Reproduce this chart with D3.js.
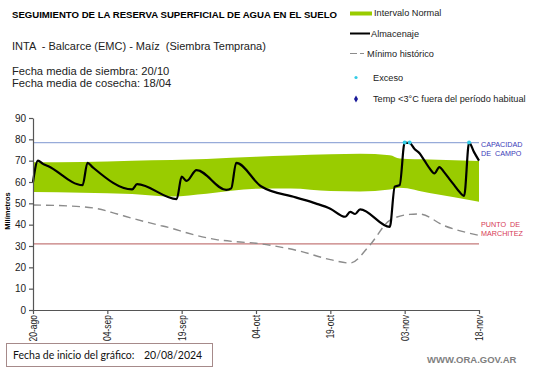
<!DOCTYPE html>
<html lang="es">
  <head>
    <meta charset="UTF-8" />
    <title>Reserva de agua en el suelo</title>
    <script src="https://cdn.jsdelivr.net/npm/d3@7"></script>
    <style>
      body { margin: 0; background: #fff; }
      svg { display: block; font-family: "Liberation Sans", Arial, sans-serif; }
    </style>
  </head>
  <body>
    <svg></svg>
    <script>
      const width = 541;
      const height = 368;

      // data: day offsets from the chart start date
      const startDate = new Date(2024, 7, 20);
      const tickDays = [0, 15, 30, 45, 60, 75, 90];
      const tickLabels = ["20-ago", "04-sep", "19-sep", "04-oct", "19-oct", "03-nov", "18-nov"];
      const yTicks = [0, 10, 20, 30, 40, 50, 60, 70, 80, 90];

      const storeDays = [0, 1, 2, 3, 10, 11, 12, 20, 21, 29, 30, 31, 33, 39, 40, 41, 46, 53, 57, 60, 63, 64, 65, 66, 72, 73, 74, 75, 76, 77, 78, 79, 80, 81, 82, 83, 84, 85, 86, 87, 88, 89, 90];
      const storeValues = [60, 70, 68.5, 67.5, 58.5, 69, 67, 56.5, 59, 52, 62.5, 60.5, 65.6, 56.3, 57, 69, 58, 52.8, 50, 47.5, 43.7, 46, 45, 47.2, 39, 57.8, 58.6, 78.5, 78.3, 75.5, 73.5, 70, 66.5, 64, 67, 64.5, 61.5, 58.5, 55.5, 53.5, 78.5, 74, 70];

      const bandDays = [0, 10, 20, 28, 35, 45, 52, 60, 66, 72, 74, 80, 90];
      const bandUpper = [69.3, 69.4, 70, 70.3, 70.8, 71.8, 72.4, 73, 73.2, 72.5, 71, 70.5, 69.9];
      const bandLower = [55.3, 55, 54.4, 53.2, 54.5, 56.8, 57, 55.8, 55.6, 56.5, 57.3, 54.8, 50.8];

      const minDays = [0, 7, 13, 17, 20, 25, 28, 31, 37, 41, 45, 48, 54, 60, 64, 68, 72, 76, 78, 83, 90];
      const minValues = [49.2, 48.8, 47.5, 45, 43, 40, 38.3, 36.2, 33, 32, 31.3, 30.3, 27.5, 23.6, 22, 30.5, 42, 44.8, 45, 39.5, 35];

      const excesoDays = [75, 76, 88];
      const excesoValues = [78.5, 78.5, 78.5];

      const fieldCapacity = 78.5;
      const wiltingPoint = 31;

      const day = (d) => d3.timeDay.offset(startDate, d);

      const xScale = d3.scaleTime().domain([day(0), day(90)]).range([33, 479]);
      const yScale = d3.scaleLinear().domain([0, 90]).range([310, 118]);

      const svg = d3.select("svg").attr("width", width).attr("height", height);

      // normal interval band
      const band = bandDays.map((d, i) => ({ d: d, lo: bandLower[i], hi: bandUpper[i] }));
      const area = d3.area()
        .x((p) => xScale(day(p.d)))
        .y0((p) => yScale(p.lo))
        .y1((p) => yScale(p.hi))
        .curve(d3.curveMonotoneX);
      svg.append("path").attr("d", area(band)).attr("fill", "#99cc00");

      // reference lines
      svg.append("line")
        .attr("x1", xScale(day(0))).attr("x2", xScale(day(90)))
        .attr("y1", yScale(fieldCapacity)).attr("y2", yScale(fieldCapacity))
        .attr("stroke", "#97abd9").attr("stroke-width", 1.3);
      svg.append("line")
        .attr("x1", xScale(day(0))).attr("x2", xScale(day(90)))
        .attr("y1", yScale(wiltingPoint)).attr("y2", yScale(wiltingPoint))
        .attr("stroke", "#c47a7a").attr("stroke-width", 1.3);

      // historic minimum
      const minLine = d3.line()
        .x((p) => xScale(day(p[0])))
        .y((p) => yScale(p[1]))
        .curve(d3.curveMonotoneX);
      svg.append("path")
        .attr("d", minLine(minDays.map((d, i) => [d, minValues[i]])))
        .attr("fill", "none").attr("stroke", "#8c8c8c")
        .attr("stroke-width", 1.4).attr("stroke-dasharray", "8,5");

      // storage
      const storeLine = d3.line()
        .x((p) => xScale(day(p[0])))
        .y((p) => yScale(p[1]))
        .curve(d3.curveMonotoneX);
      svg.append("path")
        .attr("d", storeLine(storeDays.map((d, i) => [d, storeValues[i]])))
        .attr("fill", "none").attr("stroke", "#000")
        .attr("stroke-width", 2.2).attr("stroke-linejoin", "round");

      svg.selectAll("circle.exceso")
        .data(excesoDays.map((d, i) => [d, excesoValues[i]]))
        .join("circle")
        .attr("class", "exceso")
        .attr("cx", (p) => xScale(day(p[0])))
        .attr("cy", (p) => yScale(p[1]))
        .attr("r", 2)
        .attr("fill", "#33cce6");

      // axes
      const yAxis = svg.append("g")
        .attr("transform", "translate(33,0)")
        .call(d3.axisLeft(yScale).tickValues(yTicks).tickSize(4).tickSizeOuter(0));
      yAxis.selectAll("text").attr("font-size", 10).attr("fill", "#222").attr("x", -7)
        .attr("font-family", "Liberation Sans, Arial, sans-serif");

      const xAxis = svg.append("g")
        .attr("transform", "translate(0,310)")
        .call(d3.axisBottom(xScale)
          .tickValues(tickDays.map(day))
          .tickFormat((d, i) => tickLabels[i])
          .tickSize(4).tickSizeOuter(0));
      xAxis.selectAll("text")
        .attr("font-size", 10).attr("fill", "#222")
        .attr("font-family", "Liberation Sans, Arial, sans-serif")
        .attr("text-anchor", "end")
        .attr("x", 0).attr("y", 0).attr("dy", "0.35em")
        .attr("transform", "translate(0,5) rotate(-90) scale(0.85,1)");
      svg.selectAll(".domain, .tick line").attr("stroke", "#555").attr("stroke-width", 1.2);

      svg.append("text")
        .attr("transform", "translate(10,211) rotate(-90)")
        .attr("text-anchor", "middle")
        .attr("font-size", 7.5).attr("font-weight", "bold")
        .text("Milímetros");

      // line labels
      const refLabel = (lines, y, color) => {
        lines.forEach((t, i) => {
          svg.append("text").attr("x", 481).attr("y", y + i * 9.3)
            .attr("font-size", 7.2).attr("fill", color)
            .attr("xml:space", "preserve").text(t);
        });
      };
      refLabel(["CAPACIDAD", "DE  CAMPO"], 147, "#3a3ab8");
      refLabel(["PUNTO  DE", "MARCHITEZ"], 226.7, "#d63a55");

      // titles
      svg.append("text").attr("x", 12).attr("y", 18)
        .attr("font-size", 9.6).attr("font-weight", "bold")
        .text("SEGUIMIENTO DE LA RESERVA  SUPERFICIAL DE AGUA EN EL SUELO");
      svg.append("text").attr("x", 12).attr("y", 50)
        .attr("font-size", 11).attr("fill", "#222").attr("xml:space", "preserve")
        .text("INTA  - Balcarce (EMC) - Maíz  (Siembra Temprana)");
      svg.append("text").attr("x", 12).attr("y", 74.5)
        .attr("font-size", 11.2).attr("fill", "#222")
        .text("Fecha media de siembra: 20/10");
      svg.append("text").attr("x", 12).attr("y", 86.5)
        .attr("font-size", 11.2).attr("fill", "#222")
        .text("Fecha media de cosecha: 18/04");

      // legend
      const legend = svg.append("g").attr("font-size", 9.2).attr("fill", "#222");
      legend.append("rect").attr("x", 350).attr("y", 11.5).attr("width", 22).attr("height", 4).attr("fill", "#99cc00");
      legend.append("text").attr("x", 374).attr("y", 16).text("Intervalo Normal");
      legend.append("line").attr("x1", 350).attr("x2", 370).attr("y1", 33.5).attr("y2", 33.5)
        .attr("stroke", "#000").attr("stroke-width", 2);
      legend.append("text").attr("x", 371).attr("y", 37).text("Almacenaje");
      legend.append("line").attr("x1", 350).attr("x2", 364).attr("y1", 53.5).attr("y2", 53.5)
        .attr("stroke", "#8c8c8c").attr("stroke-width", 1.2).attr("stroke-dasharray", "7,3");
      legend.append("text").attr("x", 367).attr("y", 57).text("Mínimo histórico");
      legend.append("circle").attr("cx", 356).attr("cy", 77.5).attr("r", 1.6).attr("fill", "#33cce6");
      legend.append("text").attr("x", 373).attr("y", 80.5).text("Exceso");
      legend.append("path").attr("d", d3.symbol(d3.symbolDiamond, 14)())
        .attr("transform", "translate(356,99)").attr("fill", "#1a1a99");
      legend.append("text").attr("x", 373).attr("y", 101.7).text("Temp <3°C fuera del período habitual");

      // footer
      svg.append("rect").attr("x", 6.5).attr("y", 343.5).attr("width", 206).attr("height", 23)
        .attr("fill", "#fff").attr("stroke", "#a68a8a");
      svg.append("text").attr("x", 13).attr("y", 359)
        .attr("font-family", "Lato, sans-serif").attr("font-size", 10.5).attr("fill", "#111")
        .text("Fecha de inicio del gráfico:");
      svg.append("text").attr("x", 144).attr("y", 359)
        .attr("font-family", "Lato, sans-serif").attr("font-size", 10.5).attr("fill", "#111")
        .text("20/08/2024");
      svg.append("text").attr("x", 427).attr("y", 363)
        .attr("font-size", 9.5).attr("font-weight", "bold").attr("fill", "#7f7f7f")
        .text("WWW.ORA.GOV.AR");
    </script>
  </body>
</html>
